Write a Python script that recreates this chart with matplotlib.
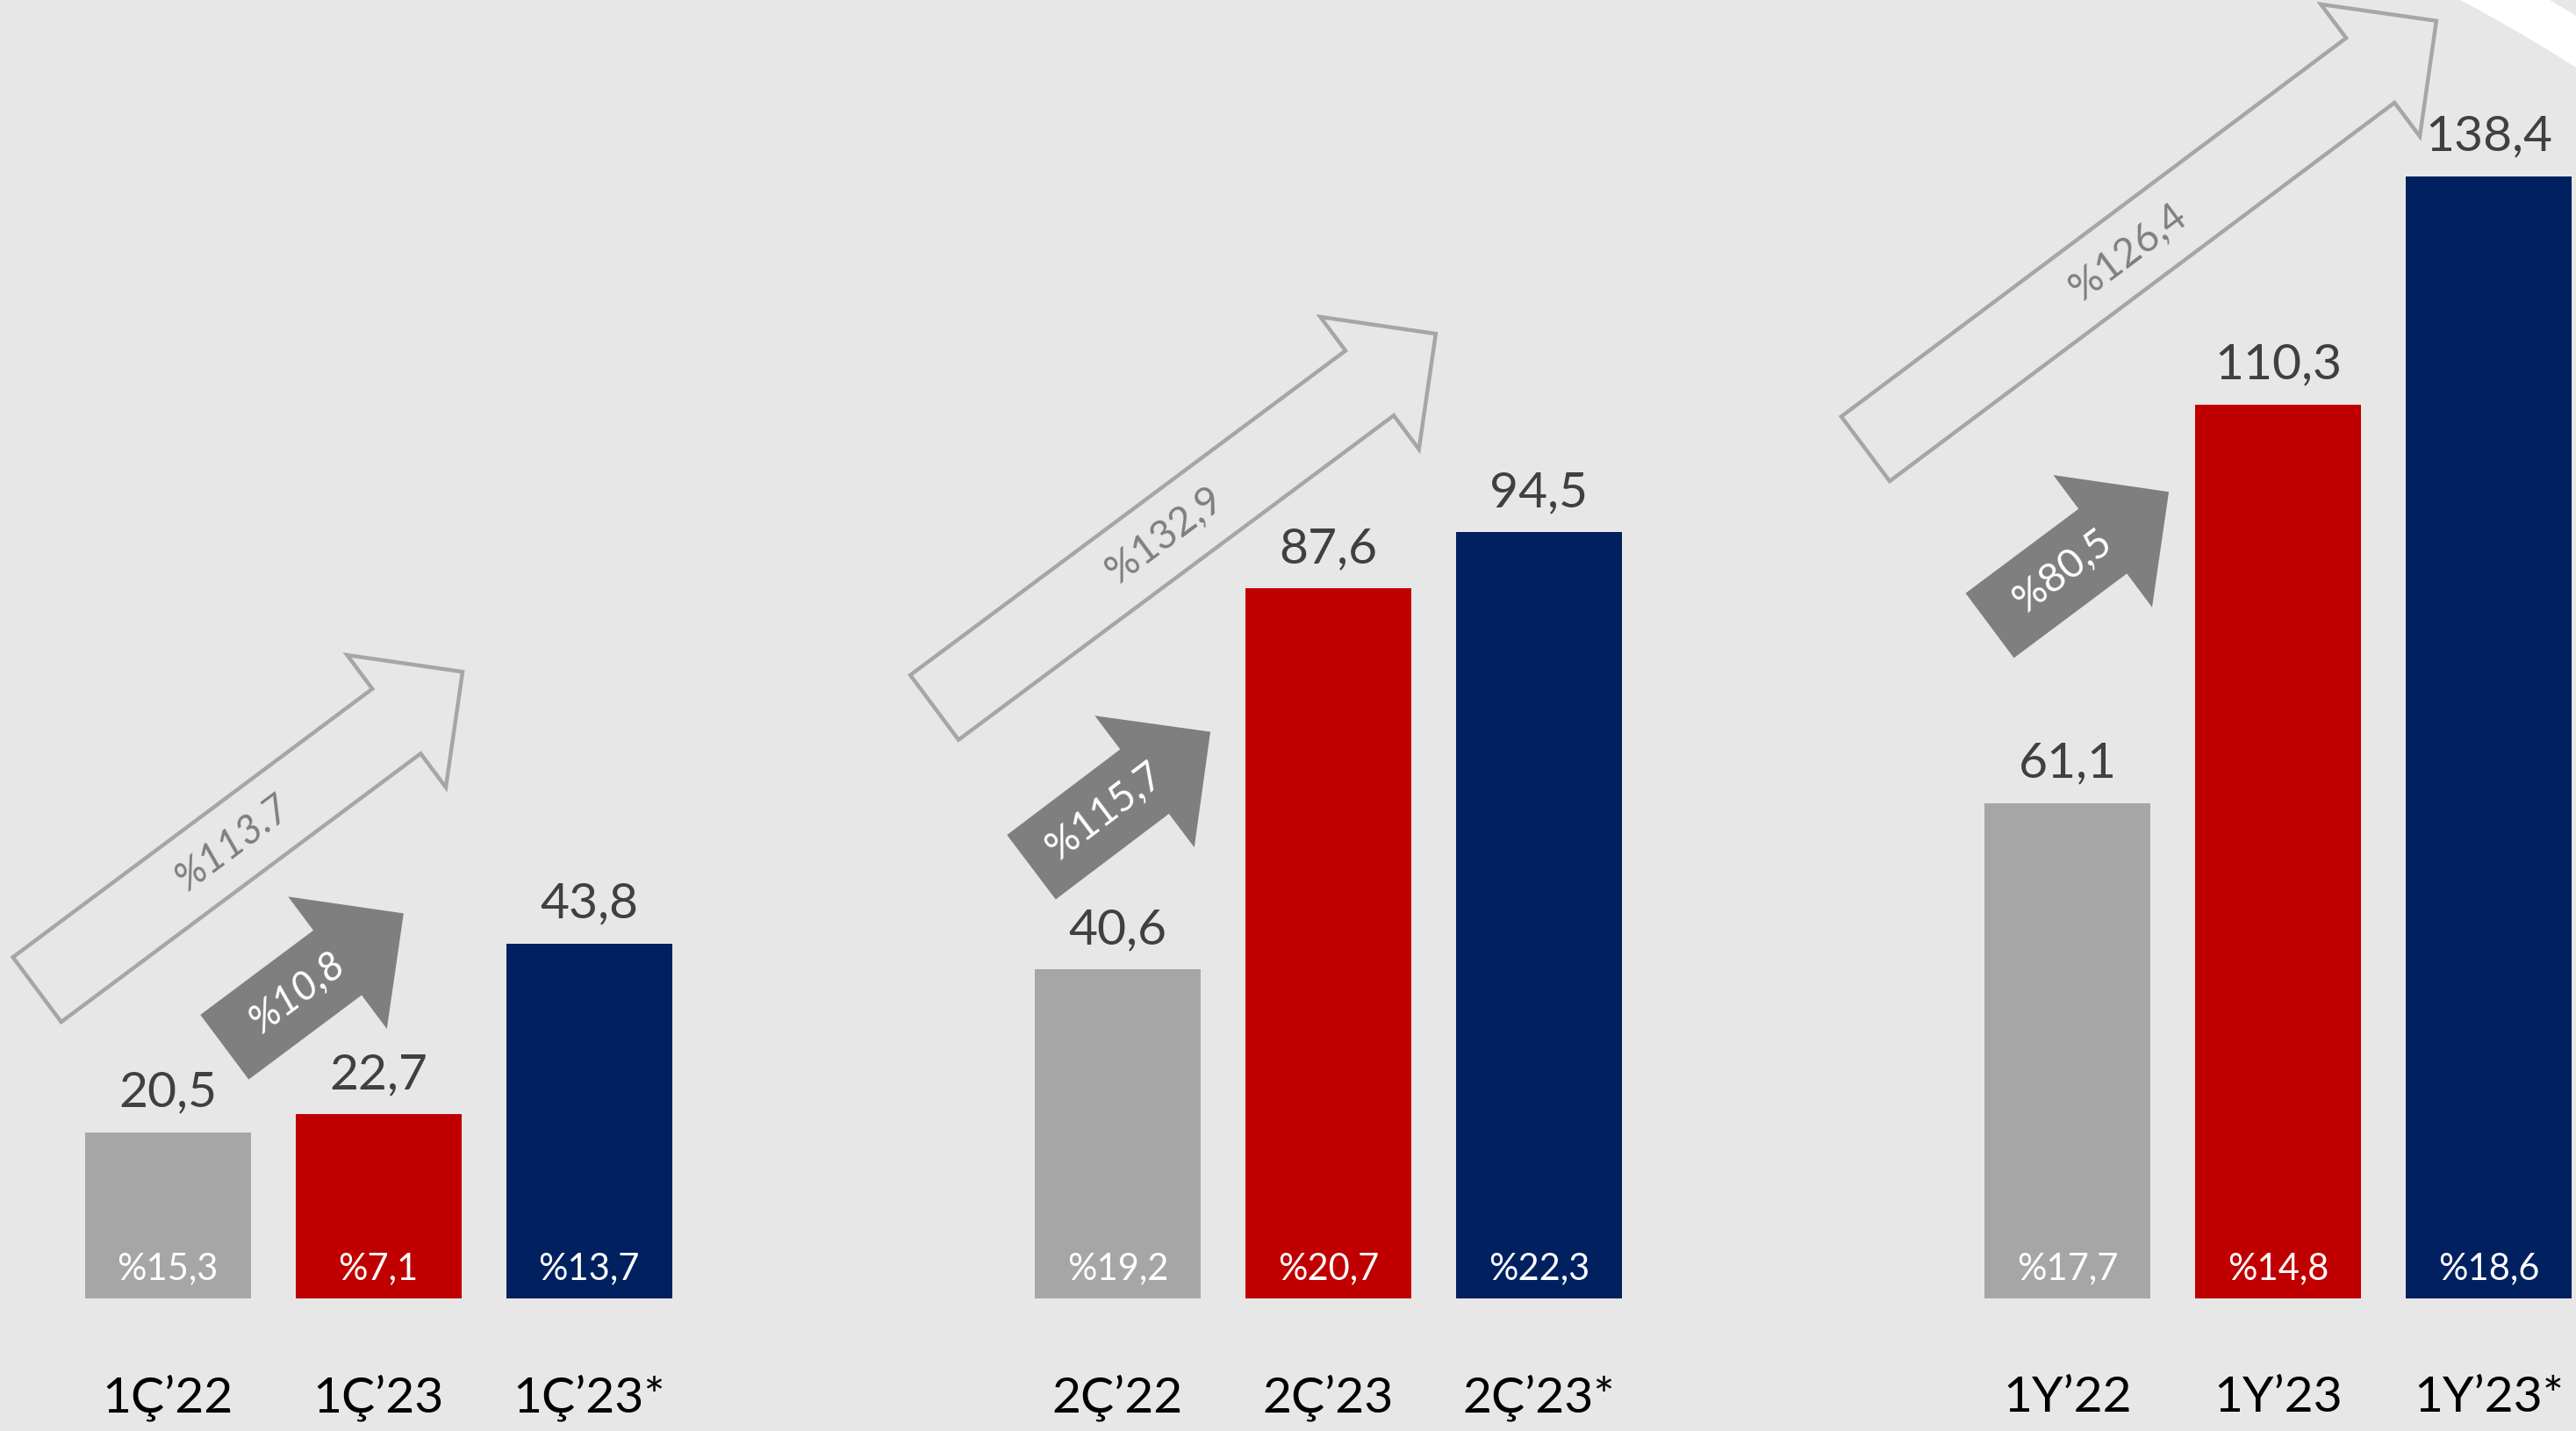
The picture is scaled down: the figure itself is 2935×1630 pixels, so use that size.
import matplotlib
matplotlib.use('Agg')
import matplotlib.pyplot as plt
import matplotlib.patches as mpatches
from matplotlib.transforms import IdentityTransform
import numpy as np

plt.rcParams['font.family'] = ['Lato', 'DejaVu Sans']

# data
group_start = [0, 4.51, 9.02]
cats_22 = ['1Ç’22', '2Ç’22', '1Y’22']
cats_23 = ['1Ç’23', '2Ç’23', '1Y’23']
cats_23s = ['1Ç’23*', '2Ç’23*', '1Y’23*']
values_22 = [20.5, 40.6, 61.1]
values_23 = [22.7, 87.6, 110.3]
values_23s = [43.8, 94.5, 138.4]
margin_22 = ['%15,3', '%19,2', '%17,7']
margin_23 = ['%7,1', '%20,7', '%14,8']
margin_23s = ['%13,7', '%22,3', '%18,6']
growth_23 = ['%10,8', '%115,7', '%80,5']      # 22 -> 23 (filled arrow)
growth_23s = ['%113.7', '%132,9', '%126,4']   # 22 -> 23* (outlined arrow)

# arrow anchors (data coords)
hollow_tail = [(-0.62, 38.1), (3.64, 72.9), (8.06, 104.8)]
hollow_tip = [(1.40, 77.3), (6.02, 119.0), (10.77, 157.6)]
filled_tail = [(0.27, 31.0), (4.10, 53.2), (8.65, 83.0)]
filled_tip = [(1.12, 47.5), (4.95, 69.9), (9.50, 99.5)]

colors = ['#A6A6A6', '#C00000', '#002060']
bg = '#E7E7E7'

fig = plt.figure(figsize=(29.35, 16.3), dpi=100, facecolor=bg)
ax = fig.add_axes([0, 0, 1, 1])
ax.set_xlim(-0.796, 11.433)
ax.set_ylim(-16.35, 160.17)
ax.axis('off')

bw = 0.7875
for g in range(3):
    x0 = group_start[g]
    series = [(values_22[g], margin_22[g], cats_22[g]),
              (values_23[g], margin_23[g], cats_23[g]),
              (values_23s[g], margin_23s[g], cats_23s[g])]
    for i, (v, m, c) in enumerate(series):
        x = x0 + i
        ax.bar(x, v, width=bw, color=colors[i], zorder=2)
        ax.annotate(f'{v:.1f}'.replace('.', ','), (x, v), xytext=(0, 21),
                    textcoords='offset points', ha='center', va='baseline',
                    fontsize=41, color='#404040', zorder=4)
        ax.text(x, 2.4, m, ha='center', va='baseline', fontsize=30,
                color='white', zorder=4)
        ax.text(x, -13.97, c, ha='center', va='baseline', fontsize=41,
                color='black')


def draw_arrow(tail, tip, filled, label, frac, italic):
    T = ax.transData.transform(tail)
    P = ax.transData.transform(tip)
    d = P - T
    L = np.hypot(*d)
    u = d / L
    n = np.array([-u[1], u[0]])
    w, hw, hl = 46, 94, 94
    base = P - u * hl
    pts = [T + n * w, base + n * w, base + n * hw, P,
           base - n * hw, base - n * w, T - n * w]
    if filled:
        poly = mpatches.Polygon(pts, closed=True, facecolor='#7F7F7F',
                                edgecolor='none', transform=IdentityTransform(), zorder=3)
        tc = 'white'
    else:
        poly = mpatches.Polygon(pts, closed=True, facecolor='none',
                                edgecolor='#A6A6A6', linewidth=3.2,
                                joinstyle='miter',
                                transform=IdentityTransform(), zorder=3)
        tc = '#7F7F7F'
    ax.add_patch(poly)
    pos = ax.transData.inverted().transform(T + u * L * frac)
    ang = np.degrees(np.arctan2(u[1], u[0]))
    ax.text(pos[0], pos[1], label, rotation=ang, rotation_mode='anchor',
            ha='center', va='center', fontsize=33, color=tc,
            style='italic' if italic else 'normal', zorder=4)


for g in range(3):
    draw_arrow(hollow_tail[g], hollow_tip[g], False, growth_23s[g], 0.46, g == 0)
    draw_arrow(filled_tail[g], filled_tip[g], True, growth_23[g], 0.41, g == 0)

# white decorative arc, top-right corner
arc = mpatches.Wedge((1900, -70), 1975, 45, 75, width=50, facecolor='white',
                     edgecolor='none', transform=IdentityTransform(), zorder=1)
ax.add_patch(arc)

fig.savefig('out.png', dpi=100, facecolor=bg)
